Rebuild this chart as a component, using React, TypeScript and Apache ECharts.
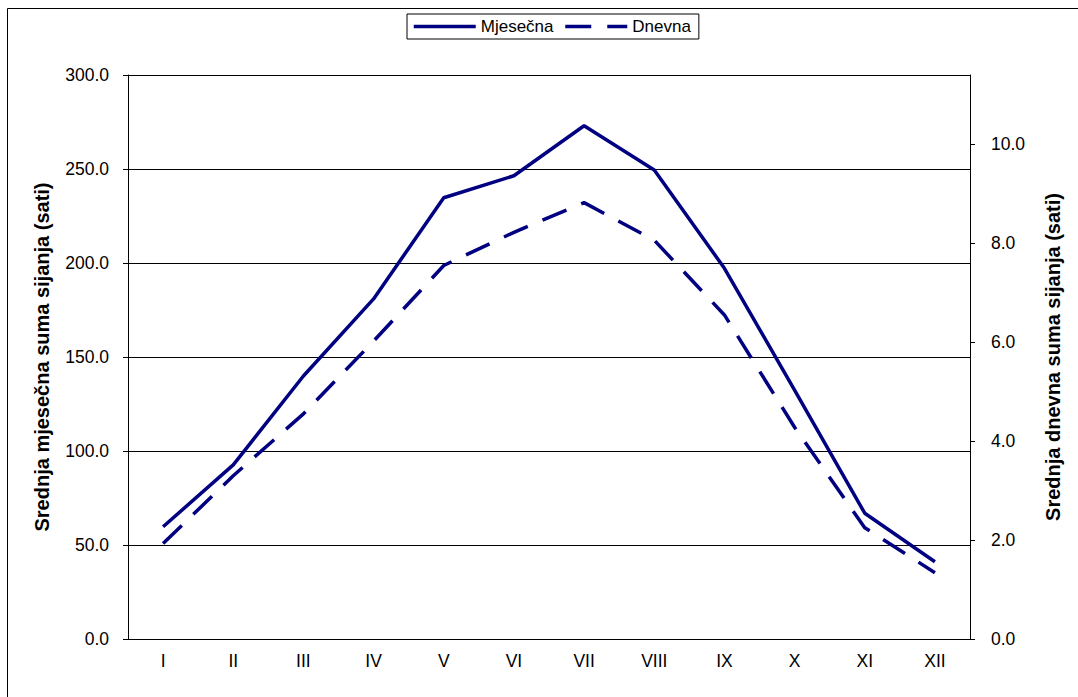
import React, { useEffect, useRef } from "react";
import * as echarts from "echarts";

const months = ["I", "II", "III", "IV", "V", "VI", "VII", "VIII", "IX", "X", "XI", "XII"];
const monthly = [59.7, 92.6, 139.9, 180.9, 234.7, 246.4, 273.0, 249.5, 197.2, 132.4, 66.9, 41.1];
const daily = [1.93, 3.3, 4.55, 6.02, 7.55, 8.22, 8.82, 8.06, 6.55, 4.28, 2.25, 1.34];
const seriesNames = ["Mjesečna", "Dnevna"];
const leftTitle = "Srednja mjesečna suma sijanja (sati)";
const rightTitle = "Srednja dnevna suma sijanja (sati)";

const FONT = "'Liberation Sans', Arial, sans-serif";
const NAVY = "#000080";

export default function App() {
  const ref = useRef<HTMLDivElement>(null);
  useEffect(() => {
    if (!ref.current) return;
    const chart = echarts.init(ref.current, undefined, { renderer: "svg" });
    const axisText = { color: "#000", fontSize: 17.5, fontFamily: FONT };
    const titleText = { color: "#000", fontSize: 20, fontFamily: FONT, fontWeight: "bold" };
    chart.setOption({
      animation: false,
      backgroundColor: "#fff",
      textStyle: { fontFamily: FONT },
      graphic: [
        {
          type: "rect",
          silent: true,
          z: -1,
          shape: { x: 7.5, y: 8.5, width: 1200, height: 800 },
          style: { fill: "none", stroke: "#000", lineWidth: 1 },
        },
      ],
      legend: {
        left: 407,
        top: 14,
        itemWidth: 62,
        itemHeight: 12,
        itemGap: 10,
        padding: [4, 8, 4, 5],
        borderColor: "#000",
        borderWidth: 1,
        borderRadius: 0,
        itemStyle: { opacity: 0 },
        lineStyle: { width: 3.5, color: NAVY },
        textStyle: { fontSize: 17, color: "#000", fontFamily: FONT },
        data: seriesNames,
      },
      grid: { left: 128, right: 108, top: 75, bottom: 58 },
      xAxis: {
        type: "category",
        data: months,
        axisLine: { lineStyle: { color: "#000", width: 1 } },
        axisTick: { length: 6, lineStyle: { color: "#000" } },
        axisLabel: { ...axisText, margin: 13 },
      },
      yAxis: [
        {
          type: "value",
          min: 0,
          max: 300,
          interval: 50,
          name: leftTitle,
          nameLocation: "middle",
          nameGap: 76,
          nameTextStyle: titleText,
          axisLine: { show: true, lineStyle: { color: "#000" } },
          axisTick: { show: true, length: 5, lineStyle: { color: "#000" } },
          axisLabel: { ...axisText, margin: 19, formatter: (v: number) => v.toFixed(1) },
          splitLine: { show: true, lineStyle: { color: "#000", width: 1 } },
        },
        {
          type: "value",
          position: "right",
          min: 0,
          max: 11.4,
          interval: 2,
          name: rightTitle,
          nameLocation: "middle",
          nameGap: 73,
          nameTextStyle: titleText,
          axisLine: { show: true, lineStyle: { color: "#000" } },
          axisTick: { show: true, length: 5, lineStyle: { color: "#000" } },
          axisLabel: {
            ...axisText,
            margin: 21,
            showMaxLabel: false,
            formatter: (v: number) => v.toFixed(1),
          },
          splitLine: { show: false },
        },
      ],
      series: [
        {
          name: seriesNames[0],
          type: "line",
          yAxisIndex: 0,
          data: monthly,
          symbol: "none",
          itemStyle: { color: NAVY },
          lineStyle: { color: NAVY, width: 3.5 },
        },
        {
          name: seriesNames[1],
          type: "line",
          yAxisIndex: 1,
          data: daily,
          symbol: "none",
          itemStyle: { color: NAVY },
          lineStyle: { color: NAVY, width: 3.5, type: [26, 16] },
        },
      ],
    });
    return () => chart.dispose();
  }, []);
  return (
    <div
      ref={ref}
      style={{ position: "absolute", left: 0, top: 0, width: 1078, height: 697 }}
    />
  );
}
